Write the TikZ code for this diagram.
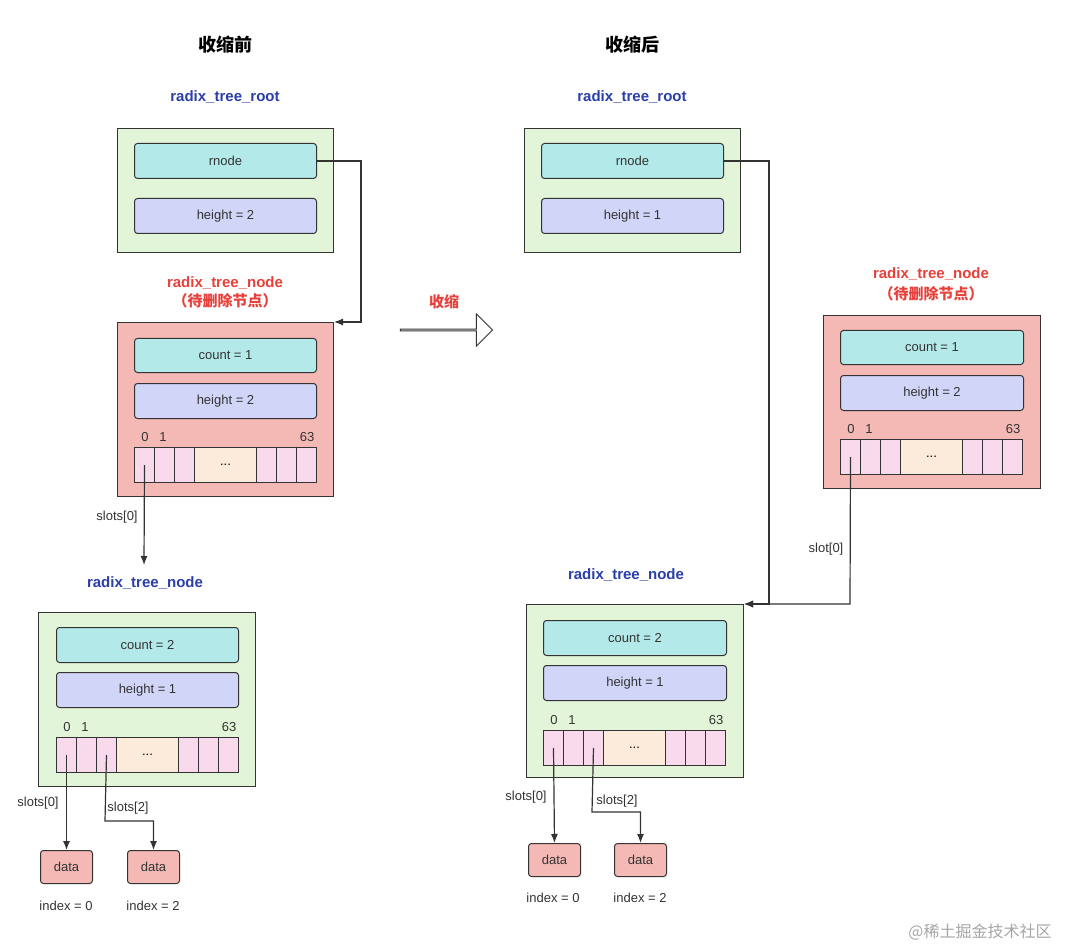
\documentclass[tikz,border=0pt]{standalone}
\usepackage{fontspec}
\setmainfont{Liberation Sans}
\newfontfamily\cjk{Noto Sans CJK SC}
\usetikzlibrary{arrows.meta,shapes.arrows}
\definecolor{grn}{HTML}{E3F5D9}
\definecolor{cyn}{HTML}{B4E9E9}
\definecolor{lav}{HTML}{D1D5F8}
\definecolor{rd}{HTML}{F4B9B5}
\definecolor{pk}{HTML}{F9DAEC}
\definecolor{cr}{HTML}{FCEBDA}
\definecolor{blu}{HTML}{2B3FA8}
\definecolor{red}{HTML}{E8403A}
\definecolor{ln}{HTML}{333333}
\tikzset{
 box/.style={draw=ln,line width=1pt,anchor=north west,inner sep=0},
 fld/.style={box,rounded corners=3pt,font=\fontsize{13}{15}\selectfont,text=ln},
 cell/.style={draw=ln,line width=1pt,fill=pk,anchor=north west,minimum height=35pt,minimum width=20pt,inner sep=0},
 small/.style={font=\fontsize{13}{15}\selectfont,text=ln},
 blab/.style={font=\fontsize{15}{18}\selectfont\bfseries,text=blu},
 rlab/.style={font=\fontsize{15}{18}\selectfont\bfseries,text=red},
 title/.style={font=\cjk\fontsize{18}{22}\selectfont\bfseries},
 arr/.style={draw=ln,line width=1.2pt,-{Latex[length=9pt,width=7pt]}},
}
% slot array: prefix, x, y (top-left)
\newcommand\slotarr[3]{%
 \node[cell] (#1a) at (#2,#3) {};
 \node[cell] (#1b) at (#2+20,#3) {};
 \node[cell] (#1c) at (#2+40,#3) {};
 \node[cell,fill=cr,minimum width=62pt,font=\fontsize{13}{15}\selectfont] (#1d) at (#2+60,#3) {...};
 \node[cell] (#1e) at (#2+122,#3) {};
 \node[cell] (#1f) at (#2+142,#3) {};
 \node[cell] (#1g) at (#2+162,#3) {};
 \node[small] (#1l0) at (#2+11,#3-10) {0};
 \node[small] (#1l1) at (#2+29,#3-10) {1};
 \node[small] (#1l63) at (#2+173,#3-10) {63};
}
\begin{document}
\begin{tikzpicture}[x=1pt,y=-1pt]
\useasboundingbox (0,0) rectangle (1065,949);
\fill[white] (0,0) rectangle (1065,949);
% ---------- left ----------
\node[title] (t1) at (225,45) {收缩前};
\node[blab] (lr) at (225,97) {radix\_tree\_root};
\node[box,fill=grn,minimum width=216pt,minimum height=124pt] (root1) at (117,128) {};
\node[fld,fill=cyn,minimum width=182pt,minimum height=35pt] (rn1) at (134,143) {rnode};
\node[fld,fill=lav,minimum width=182pt,minimum height=35pt] (h1) at (134,198) {height = 2};
\node[rlab] (dl1) at (225,283) {radix\_tree\_node};
\node[rlab,font=\cjk\fontsize{15}{18}\selectfont\bfseries] (dl1b) at (225,301) {（待删除节点）};
\node[box,fill=rd,minimum width=216pt,minimum height=174pt] (del1) at (117,322) {};
\node[fld,fill=cyn,minimum width=182pt,minimum height=34pt] (c1) at (134,338) {count = 1};
\node[fld,fill=lav,minimum width=182pt,minimum height=35pt] (hh1) at (134,383) {height = 2};
\slotarr{s1}{134}{447}
\draw[arr] (rn1.east) -- (361,161) -- (361,322) -- (del1.north east);
\draw[arr] (s1a.center) -- (144,565);
\node[small] (sl1) at (117,517) {slots[0]};
\node[blab] (ln1) at (145,583) {radix\_tree\_node};
\node[box,fill=grn,minimum width=217pt,minimum height=174pt] (n1) at (38,612) {};
\node[fld,fill=cyn,minimum width=182pt,minimum height=35pt] (c2) at (56,627) {count = 2};
\node[fld,fill=lav,minimum width=182pt,minimum height=35pt] (h2) at (56,672) {height = 1};
\slotarr{s2}{56}{737}
\node[fld,fill=rd,minimum width=52pt,minimum height=33pt] (d1) at (40,850) {data};
\node[fld,fill=rd,minimum width=52pt,minimum height=33pt] (d2) at (127,850) {data};
\node[small] (i1) at (66,906) {index = 0};
\node[small] (i2) at (153,906) {index = 2};
\draw[arr] (s2a.center) -- (d1.north);
\draw[arr] (s2c.center) -- (105,821) -| (d2.north);
\node[small] (sl2) at (38,803) {slots[0]};
\node[small] (sl3) at (128,808) {slots[2]};
% ---------- middle ----------
\node[rlab,font=\cjk\fontsize{15}{18}\selectfont\bfseries] (sk) at (444,302) {收缩};
\node[single arrow,draw=ln,line width=1pt,fill=white,minimum height=92pt,minimum width=32pt,single arrow head extend=8pt,single arrow tip angle=90,inner sep=0] (bigarr) at (446,330) {};
% ---------- right ----------
\node[title] (t2) at (632,45) {收缩后};
\node[blab] (rr) at (632,97) {radix\_tree\_root};
\node[box,fill=grn,minimum width=216pt,minimum height=124pt] (root2) at (524,128) {};
\node[fld,fill=cyn,minimum width=182pt,minimum height=35pt] (rn2) at (541,143) {rnode};
\node[fld,fill=lav,minimum width=182pt,minimum height=35pt] (h3) at (541,198) {height = 1};
\node[rlab] (dl2) at (931,274) {radix\_tree\_node};
\node[rlab,font=\cjk\fontsize{15}{18}\selectfont\bfseries] (dl2b) at (931,294) {（待删除节点）};
\node[box,fill=rd,minimum width=217pt,minimum height=173pt] (del2) at (823,315) {};
\node[fld,fill=cyn,minimum width=183pt,minimum height=34pt] (c3) at (840,330) {count = 1};
\node[fld,fill=lav,minimum width=183pt,minimum height=35pt] (h4) at (840,375) {height = 2};
\slotarr{s3}{840}{439}
\node[blab] (ln2) at (626,575) {radix\_tree\_node};
\node[box,fill=grn,minimum width=217pt,minimum height=173pt] (n2) at (526,604) {};
\node[fld,fill=cyn,minimum width=183pt,minimum height=35pt] (c4) at (543,620) {count = 2};
\node[fld,fill=lav,minimum width=183pt,minimum height=35pt] (h5) at (543,665) {height = 1};
\slotarr{s4}{543}{730}
\draw[arr] (rn2.east) -- (769,161) -- (769,604) -- (n2.north east);
\draw[arr] (s3a.center) -- (850,604) -- (n2.north east);
\node[small] (sl4) at (826,549) {slot[0]};
\node[fld,fill=rd,minimum width=52pt,minimum height=33pt] (d3) at (528,843) {data};
\node[fld,fill=rd,minimum width=52pt,minimum height=33pt] (d4) at (614,843) {data};
\node[small] (i3) at (553,898) {index = 0};
\node[small] (i4) at (640,898) {index = 2};
\draw[arr] (s4a.center) -- (d3.north);
\draw[arr] (s4c.center) -- (592,812) -| (d4.north);
\node[small] (sl5) at (526,797) {slots[0]};
\node[small] (sl6) at (617,801) {slots[2]};
\node[font=\cjk\fontsize{16}{18}\selectfont,text=black!35] (wm) at (980,932) {@稀土掘金技术社区};
\end{tikzpicture}
\end{document}
